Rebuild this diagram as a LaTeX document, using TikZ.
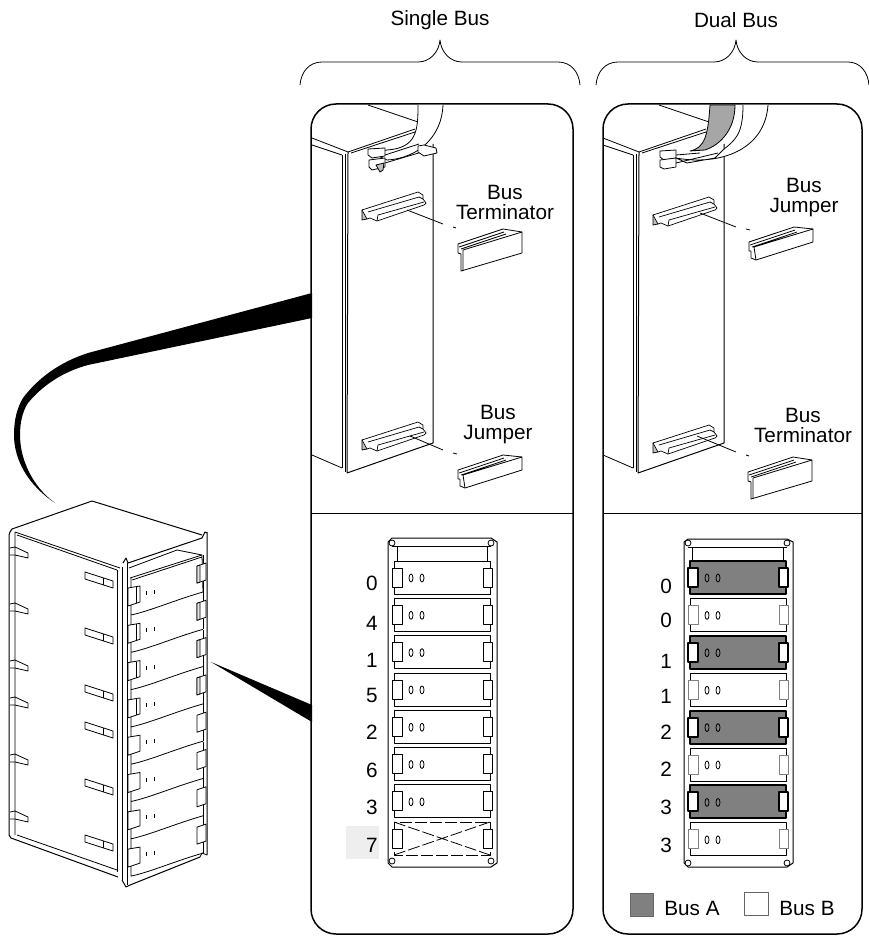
\documentclass[tikz,border=0pt]{standalone}
\usepackage{fontspec}
\setmainfont{Liberation Sans}
\usetikzlibrary{positioning}

\definecolor{busgrey}{HTML}{808080}
\definecolor{numshade}{HTML}{EEEEEE}

\begin{document}
\begin{tikzpicture}[
  x=1pt, y=-1pt, line width=1pt, line join=round,
  label/.style  = {font=\fontsize{20.7}{20}\selectfont, inner sep=0pt, align=center},
  panel/.style  = {draw, line width=1.5pt, rounded corners=25pt},
  brace/.style  = {line width=.8pt},
  thin line/.style = {line width=.8pt},
  latch/.style  = {},
  % one drive slot of the backplane
  pics/bay/.style = {code={
    \path[pic actions] (0,0) rectangle (96,33);
    \path[pic actions, fill=white, latch] (-2,7) rectangle (8,26);
    \path[pic actions, fill=white, latch] (89,7) rectangle (98,26);
    \draw[thin line] (17,17) ellipse (2 and 4) (28,17) ellipse (2 and 4);
  }},
  % connector socket on the chassis
  pics/socket/.style = {code={
    \draw[line width=.7pt, fill=gray!50] (0,0) -- (5,-1) -- (5,9) -- (0,10) -- cycle;
    \draw[line width=.7pt, fill=white] (0,0) -- (56,-18) -- (61,-15) -- (61,-11) -- (64,-7)
      -- (62,-5) -- (15,11) -- (8,8) -- (5,9) -- cycle;
    \draw[line width=.7pt] (6,2) -- (57,-13) -- (61,-11) (16,5) -- (62,-8) (16,5) -- (15,11);
  }},
  pics/terminator/.style = {code={
    \draw[thin line, fill=white] (0,0) -- (45,-15) -- (64,-12) -- (64,9) -- (3,27)
      -- (3,10) -- (0,9) -- cycle;
    \draw[thin line] (5,6) -- (64,-12) (5,6) -- (5,27) (1,3) -- (46,-12) (3,5) -- (48,-10);
  }},
  pics/jumper/.style = {code={
    \draw[thin line, fill=white] (0,0) -- (45,-15) -- (64,-13) -- (64,0) -- (7,18)
      -- (2,16) -- (2,9) -- (0,9) -- cycle;
    \draw[thin line] (5,5) -- (64,-13) (5,5) -- (7,18) (1,3) -- (46,-12) (3,5) -- (48,-10);
  }},
  % chassis side seen in both panels
  pics/chassis/.style = {code={
    \draw (348,152) -- (347,473) -- (433,443) (433,144) -- (433,443);
    \draw[thin line] (345,154) -- (345,472) (342,155) -- (342,468);
    \draw[thin line] (312,138) -- (348,152) (312,145) -- (342,155) (312,455) -- (342,468);
    \draw[thin line] (368,105) -- (418,122);
    \draw[thin line] (348,152) -- (415,129) (351,153) -- (415,132);
  }}
]
\useasboundingbox (0,0) rectangle (869,936);

%--------------------------------------------------
% Titles and braces
%--------------------------------------------------
\node[label] (singletitle) at (440,20) {Single Bus};
\node[label] (dualtitle) at (736,20) {Dual Bus};

\draw[brace] (300,85) .. controls (301,72) and (309,62) .. (322,62) -- (418,62)
  .. controls (430,62) and (439,52) .. (440,40) .. controls (441,52) and (450,62) .. (462,62)
  -- (558,62) .. controls (571,62) and (579,72) .. (580,85);
\draw[brace] (596,85) .. controls (597,72) and (605,62) .. (618,62) -- (714,62)
  .. controls (726,62) and (735,52) .. (736,40) .. controls (737,52) and (746,62) .. (758,62)
  -- (848,62) .. controls (860,62) and (868,72) .. (869,85);

%--------------------------------------------------
% Callouts from the rack
%--------------------------------------------------
\fill (55,503) .. controls (28,485) and (14,460) .. (14,435)
  .. controls (14,420) and (17,408) .. (23,398)
  .. controls (38,378) and (60,362) .. (88,353) -- (312,293) -- (312,318) -- (88,365)
  .. controls (62,372) and (42,386) .. (28,403)
  .. controls (22,412) and (20,424) .. (20,435)
  .. controls (20,460) and (33,487) .. (55,503) -- cycle;
\fill (211,662) -- (312,705) -- (312,722) -- cycle;

%--------------------------------------------------
% Panels
%--------------------------------------------------
\draw[panel] (311,104) rectangle (573,934);
\draw[panel] (603,104) rectangle (862,934);
\draw[thin line] (311,513) -- (573,513);
\draw[thin line] (603,513) -- (862,513);

%--------------------------------------------------
% Single bus: chassis
%--------------------------------------------------
\pic at (0,0) {chassis};
\draw[thin line, fill=white] (418,105) .. controls (418,130) and (417,148) .. (387,150) -- (372,153)
  -- (387,160) .. controls (420,158) and (442,135) .. (443,105);
\draw[thin line, fill=white] (368,149) -- (385,148) -- (385,156) -- (372,158) -- (368,155) -- cycle;
\draw[thin line, fill=white] (369,160) -- (385,158) -- (385,167) -- (372,170) -- (369,167) -- cycle;
\draw[thin line] (385,155) -- (419,144) (385,163) -- (422,152);
\draw[thin line, fill=gray!50] (376,165) -- (384,163) -- (383,170) -- (380,172) -- cycle;
\draw[thin line, fill=white] (418,146) -- (424,145) -- (436,148) -- (437,153) -- (424,156) -- (418,152) -- cycle;

\pic at (362,210) {socket};
\pic at (362,440) {socket};
\draw[thin line] (407,210) -- (443,224) (453,227) -- (456,228);
\draw[thin line] (410,436) -- (443,450) (453,453) -- (457,454);

\pic at (458,244) {terminator};
\pic at (458,470) {jumper};
\node[label] (terma) at (505,202) {Bus\\Terminator};
\node[label] (jumpa) at (498,425) {Bus\\Jumper};

%--------------------------------------------------
% Dual bus: chassis
%--------------------------------------------------
\pic at (291,0) {chassis};
\draw[thin line, fill=white] (743,105) .. controls (743,135) and (735,140) .. (723,150) -- (715,158)
  -- (687,163) -- (676,158) .. controls (720,166) and (765,150) .. (768,105);
\draw[thin line, fill=busgrey!70] (710,105) .. controls (708,135) and (705,148) .. (690,151)
  -- (705,150) .. controls (720,145) and (735,130) .. (735,105) -- cycle;
\draw[thin line, fill=white] (660,151) -- (676,150) -- (676,158) -- (664,160) -- (660,157) -- cycle;
\draw[thin line, fill=white] (660,160) -- (676,158) -- (676,167) -- (664,169) -- (660,167) -- cycle;
\draw[thin line] (676,155) -- (700,153) (676,163) -- (718,153);

\pic at (653,215) {socket};
\pic at (653,443) {socket};
\draw[thin line] (700,213) -- (736,227) (746,229) -- (750,230);
\draw[thin line] (697,436) -- (736,452) (746,455) -- (749,456);

\pic at (749,242) {jumper};
\pic at (748,472) {terminator};
\node[label] (jumpb) at (804,198) {Bus\\Jumper};
\node[label] (termb) at (803,425) {Bus\\Terminator};

%--------------------------------------------------
% Single bus: backplane
%--------------------------------------------------
\draw (388,542) -- (392,538) -- (491,538) -- (497,542) -- (497,863) -- (491,867) -- (392,867)
  -- (388,863) -- cycle;
\draw[thin line] (392,546) -- (491,546) (397,546) -- (397,561) (487,546) -- (487,561);
\foreach \hx/\hy in {392/543, 491/543, 392/861, 491/861}
  \draw[thin line, fill=white] (\hx,\hy) circle (3);

\foreach \k in {0,...,6}
  \pic[draw, thin line] at (394,561+37.3*\k) {bay};

% empty slot
\draw[thin line, dash pattern=on 12pt off 3pt] (394,822) rectangle (490,855);
\draw[thin line, dash pattern=on 12pt off 3pt] (394,822) -- (490,855) (394,855) -- (490,822);
\draw[thin line, fill=white] (392,829) rectangle (402,848) (483,829) rectangle (492,848);

\fill[numshade] (346,826) rectangle (379,859);
\foreach \lab/\ly [count=\n] in {0/583, 4/623, 1/660, 5/695, 2/732, 6/770, 3/807, 7/845}
  \node[label] (numa\n) at (372,\ly) {\lab};

%--------------------------------------------------
% Dual bus: backplane
%--------------------------------------------------
\draw (684,542) -- (688,539) -- (787,539) -- (793,542) -- (793,863) -- (787,867) -- (688,867)
  -- (684,863) -- cycle;
\draw[thin line] (688,547) -- (787,547) (692,547) -- (692,561) (783,547) -- (783,561);
\foreach \hx/\hy in {688/543, 787/543, 688/863, 787/863}
  \draw[thin line, fill=white] (\hx,\hy) circle (3);

\foreach \k in {0,2,4,6}
  \pic[draw, fill=busgrey, line width=2pt] at (690,561+37.4*\k) {bay};
\foreach \k in {1,3,5,7}
  \pic[draw, thin line, latch/.style={draw=gray}] at (690,561+37.4*\k) {bay};

\foreach \lab/\ly [count=\n] in {0/586, 0/620, 1/661, 1/696, 2/732, 2/769, 3/807, 3/845}
  \node[label] (numb\n) at (666,\ly) {\lab};

% legend
\draw[draw=black!60, fill=busgrey] (630,893) rectangle (653,916);
\node[label] (busa) at (692,908) {Bus A};
\draw[draw=black!60, fill=white] (744,892) rectangle (768,915);
\node[label] (busb) at (807,908) {Bus B};

%--------------------------------------------------
% Rack
%--------------------------------------------------
\draw (12,529) -- (92,501) -- (202,535);
\draw (12,529) -- (10,532) -- (9,535) -- (9,835) -- (11,838) -- (118,877);
\draw[thin line] (15,532) -- (15,835) (15,532) -- (120,568) (17,535) -- (117,570) (17,835) -- (117,870);
\draw[thin line] (117,570) -- (117,872) (122,567) -- (122,880) (127,563) -- (127,885);
\draw (122,880) -- (126,887) -- (130,885) -- (200,857) (207,532) -- (207,855);
\draw (123,563) -- (126,558) -- (128,563) -- (202,538) -- (205,532) -- (207,533);
\draw[thin line] (129,568) -- (177,550) -- (202,555) (130,578) -- (202,555) -- (203,592)
  (132,580) -- (202,557);
\draw[thin line] (200,857) -- (202,853) -- (207,855);

\foreach \k in {0,...,7}{
  \begin{scope}[shift={(0,37.3*\k)}]
    \draw[thin line] (131,578) -- (131,615) .. controls (150,611) and (175,600) .. (203,592);
    \draw[thin line] (203,555) -- (203,592);
    \draw[thin line, fill=white] (128,588) -- (140,586) -- (140,602) -- (128,606) -- cycle;
    \draw[thin line, fill=white] (197,566) -- (206,563) -- (206,580) -- (197,583) -- cycle;
    \draw[line width=.7pt] (146,591) -- (146,595) (154,590) -- (154,594);
  \end{scope}
}
\foreach \k in {0,...,3}{
  \draw[thin line, fill=gray!20] (197,566+37.3*\k) -- (200,565+37.3*\k) -- (200,582+37.3*\k) -- (197,583+37.3*\k) -- cycle;
  \draw[thin line] (136,587+37.3*\k) -- (136,603+37.3*\k);
}

\foreach \ty in {548, 604, 661, 698, 755, 812}{
  \draw[thin line] (10,\ty) -- (15,\ty-1) -- (28,\ty+5) -- (28,\ty+10) -- (15,\ty+7) -- (10,\ty+7);
}
\foreach \ty in {572, 628, 685, 722, 779, 835}{
  \draw[thin line] (85,\ty) -- (113,\ty+9) -- (113,\ty+16) -- (85,\ty+7) -- cycle;
  \draw[thin line] (103,\ty+6) -- (103,\ty+13);
}

\end{tikzpicture}
\end{document}
